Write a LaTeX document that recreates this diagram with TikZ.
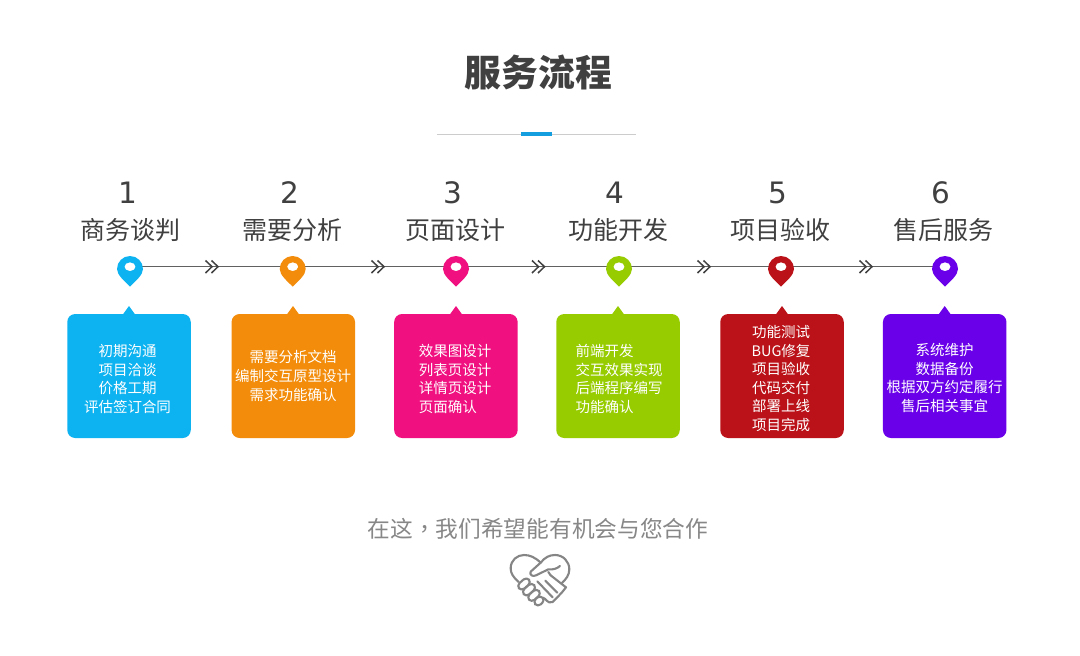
\documentclass[tikz,border=0pt]{standalone}
\usepackage{fontspec}
\setmainfont{Noto Sans CJK SC}
\newfontfamily\latinf{DejaVu Sans}
\newfontfamily\tcf{Noto Sans CJK TC}
\usetikzlibrary{calc}
\definecolor{c1}{HTML}{0DB2F0}
\definecolor{c2}{HTML}{F28C0A}
\definecolor{c3}{HTML}{F0107F}
\definecolor{c4}{HTML}{97CC00}
\definecolor{c5}{HTML}{BA1218}
\definecolor{c6}{HTML}{6A00EA}
\definecolor{barblue}{HTML}{149DDF}
\definecolor{ink}{HTML}{404040}
\tikzset{
  x=1pt,y=-1pt,
  titletext/.style={font=\fontsize{36.8}{37}\selectfont\bfseries, text=ink, inner sep=0},
  numtext/.style={font=\latinf\fontsize{29.5}{30}\selectfont, text=ink, inner sep=0},
  headtext/.style={font=\fontsize{25}{25}\selectfont, text=ink, inner sep=0},
  bodytext/.style={font=\fontsize{14.5}{18.6}\selectfont, text=white, inner sep=0},
  cardbox/.style={fill=#1, rounded corners=8pt, minimum width=123.5pt, minimum height=124pt, inner sep=0},
  linkline/.style={draw=black!62, line width=1.2pt, shorten >=12pt, shorten <=12pt},
  chevmark/.style={draw=ink, line width=1.5pt, line join=miter},
  closetext/.style={font=\fontsize{22.7}{23}\selectfont, text=black!47, inner sep=0},
  handline/.style={draw=black!48, line width=2.1pt, line join=round, line cap=round},
}
\newcommand{\pinmark}[3]{%
  \fill[#2,even odd rule] (#1,286.7) .. controls (#1-5.5,281) and (#1-13,275) .. (#1-13,269)
     arc[start angle=180,end angle=360,radius=13]
     .. controls (#1+13,275) and (#1+5.5,281) .. (#1,286.7) -- cycle
     (#1,266.7) ellipse[x radius=5.6,y radius=4.4];
}
\newcommand{\peak}[2]{\fill[#2] (#1-6.5,315) -- (#1,306) -- (#1+6.5,315) -- cycle;}
\newcommand{\chevrons}[1]{%
  \foreach \d in {0,6}{\draw[chevmark] (#1+\d-6.5,260.5) -- (#1+\d,266.7) -- (#1+\d-6.5,273);}
}
\begin{document}
\begin{tikzpicture}
\useasboundingbox[fill=white] (0,0) rectangle (1080,656);
\node[titletext] (title) at (538.5,72.5) {服务流程};
\coordinate (ruleL) at (437,134.5);
\coordinate (ruleR) at (636,134.5);
\draw[draw=black!20,line width=0.8pt] (ruleL) -- (ruleR);
\fill[barblue] (521,131.5) rectangle (552,135.5);

\node[numtext] (n1) at (127.5,192.5) {1};
\node[numtext] (n2) at (290,192.5) {2};
\node[numtext] (n3) at (453,192.5) {3};
\node[numtext] (n4) at (615,192.5) {4};
\node[numtext] (n5) at (778,192.5) {5};
\node[numtext] (n6) at (940.5,192.5) {6};

\node[headtext] (h1) at (130,230) {商务谈判};
\node[headtext] (h2) at (292.5,230) {需要分析};
\node[headtext] (h3) at (455,230) {页面设计};
\node[headtext] (h4) at (618,230) {功能开发};
\node[headtext] (h5) at (780.5,230) {项目验收};
\node[headtext] (h6) at (943,230) {售后服务};

\coordinate (p1) at (130,266.7);
\coordinate (p2) at (292.7,266.7);
\coordinate (p3) at (456,266.7);
\coordinate (p4) at (619,266.7);
\coordinate (p5) at (781,266.7);
\coordinate (p6) at (945,266.7);
\draw[linkline] (p1) -- (p2);
\draw[linkline] (p2) -- (p3);
\draw[linkline] (p3) -- (p4);
\draw[linkline] (p4) -- (p5);
\draw[linkline] (p5) -- (p6);
\chevrons{212}\chevrons{378}\chevrons{538.5}\chevrons{704}\chevrons{866}
\pinmark{130}{c1}{}\pinmark{292.7}{c2}{}\pinmark{456}{c3}{}\pinmark{619}{c4}{}\pinmark{781}{c5}{}\pinmark{945}{c6}{}

\peak{129}{c1}\peak{293}{c2}\peak{456}{c3}\peak{618}{c4}\peak{782}{c5}\peak{944.7}{c6}
\node[cardbox=c1] (card1) at (129,376) {};
\node[cardbox=c2] (card2) at (293.3,376) {};
\node[cardbox=c3] (card3) at (455.9,376) {};
\node[cardbox=c4] (card4) at (618,376) {};
\node[cardbox=c5] (card5) at (782,376) {};
\node[cardbox=c6] (card6) at (944.7,376) {};

\node[bodytext,align=center] (t1) at (127.5,379) {初期沟通\\项目洽谈\\价格工期\\评估签订合同};
\node[bodytext,align=center] (t2) at (293,376) {需要分析文档\\编制交互原型设计\\需求功能确认};
\node[bodytext,align=left] (t3) at (455,379) {效果图设计\\列表页设计\\详情页设计\\页面确认};
\node[bodytext,align=left] (t4) at (619,379) {前端开发\\交互效果实现\\后端程序编写\\功能确认};
\node[bodytext,align=center] (t5) at (781,378.5) {功能测试\\BUG修复\\项目验收\\代码交付\\部署上线\\项目完成};
\node[bodytext,align=center] (t6) at (944.5,378) {系统维护\\数据备份\\根据双方约定履行\\售后相关事宜};

\node[closetext] (closing) at (538,528.5) {在这{\tcf ，}我们希望能有机会与您合作};

% handshake icon, in 3x zoom coordinates of its crop
\begin{scope}[shift={(480,540)},x=0.3333pt,y=-0.3333pt]
  % left lobe
  \draw[handline] (116,126) .. controls (100,112) and (92,100) .. (92,85)
     .. controls (92,60) and (112,45) .. (132,45)
     .. controls (150,45) and (165,52) .. (182,68);
  % right lobe
  \draw[handline] (182,68) .. controls (195,52) and (208,45) .. (225,45)
     .. controls (250,45) and (268,65) .. (268,88)
     .. controls (268,105) and (258,118) .. (245,130);
  % thumb and upper right hand
  \draw[handline] (182,68) -- (152,95) .. controls (147,103) and (158,112) .. (168,106)
     -- (205,88) .. controls (220,90) and (232,85) .. (240,78);
  \draw[handline] (205,96) -- (212,106);
  % right hand: outer edge and fingers
  \draw[handline] (212,106) -- (258,142) -- (246,157) -- (232,172) -- (218,186)
     .. controls (212,191) and (205,188) .. (192,174);
  \draw[handline] (172,124) -- (218,172);
  \draw[handline] (196,122) -- (232,158);
  % left fingers, each a rounded bar running up to the right
  \foreach \cx/\cy/\hl in {132/132/20,147/149/21,162/166/20,177/183/15}{
    \draw[handline,fill=white,rounded corners=4pt]
      (\cx-\hl*0.75-11*0.66,\cy+\hl*0.66-11*0.75) -- (\cx+\hl*0.75-11*0.66,\cy-\hl*0.66-11*0.75)
      -- (\cx+\hl*0.75+11*0.66,\cy-\hl*0.66+11*0.75) -- (\cx-\hl*0.75+11*0.66,\cy+\hl*0.66+11*0.75) -- cycle;
  }
\end{scope}
\end{tikzpicture}
\end{document}
